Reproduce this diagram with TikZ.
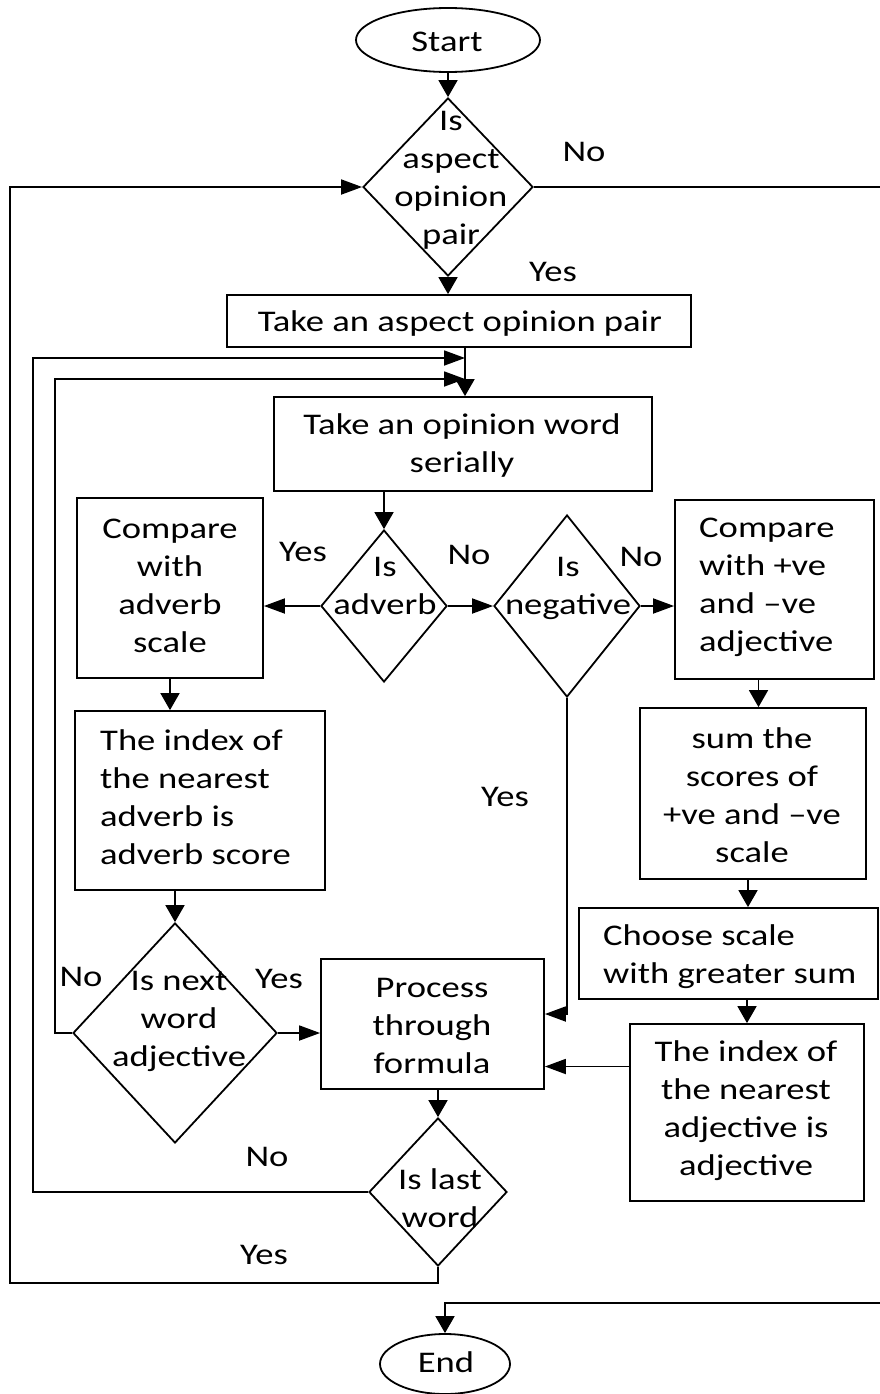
\documentclass[tikz,border=0pt]{standalone}
\usepackage{fontspec}
\setmainfont{Carlito}[FakeStretch=1.22]
\usetikzlibrary{shapes.geometric,arrows.meta}
\begin{document}
\begin{tikzpicture}[x=1pt,y=-1pt,
  every node/.style={font=\fontsize{30}{38}\selectfont},
  ln/.style={line width=1.8pt},
  box/.style={draw,line width=1.8pt,rectangle,inner sep=0pt},
  dia/.style={draw,line width=1.8pt,diamond,inner sep=0pt},
  oval/.style={draw,line width=1.8pt,ellipse,inner sep=0pt},
  txt/.style={align=center,inner sep=0pt},
  ltxt/.style={align=left,inner sep=0pt,anchor=west},
  lbl/.style={inner sep=0pt},
  av/.style={-{Triangle[length=17pt,width=19pt]}},
  ah/.style={-{Triangle[length=21pt,width=15pt]}},
]
\useasboundingbox (0,0) rectangle (880,1394);

% shapes
\node[oval,minimum width=184pt,minimum height=64pt] (start) at (448,40) {};
\node[txt] (startt) at (447,42) {Start};
\node[dia,minimum width=170pt,minimum height=178pt] (d1) at (448,187) {};
\node[txt] (d1t) at (451,180) {Is\\aspect\\opinion\\pair};
\node[box,minimum width=464pt,minimum height=52pt] (b1) at (459,321) {};
\node[txt] (b1t) at (460,323) {Take an aspect opinion pair};
\node[box,minimum width=378pt,minimum height=94pt] (b2) at (463,444) {};
\node[txt] (b2t) at (462,445) {Take an opinion word\\serially};
\node[dia,minimum width=126pt,minimum height=152pt] (d2) at (384,606) {};
\node[txt] (d2t) at (385,586) {Is\\adverb};
\node[dia,minimum width=146pt,minimum height=182pt] (d3) at (567,606) {};
\node[txt] (d3t) at (568,588) {Is\\negative};
\node[box,minimum width=186pt,minimum height=180pt] (b3) at (170,588) {};
\node[txt] (b3t) at (170,586) {Compare\\with\\adverb\\scale};
\node[box,minimum width=199pt,minimum height=179pt] (b4) at (774.5,589.5) {};
\node[ltxt] (b4t) at (699,587) {Compare\\with +ve\\and –ve\\adjective};
\node[box,minimum width=250pt,minimum height=179pt] (b5) at (200,800.5) {};
\node[ltxt] (b5t) at (100,797) {The index of\\the nearest\\adverb is\\adverb score};
\node[box,minimum width=226pt,minimum height=171pt] (b7) at (753,793.5) {};
\node[txt] (b7t) at (752,795) {sum the\\scores of\\+ve and –ve\\scale};
\node[box,minimum width=299pt,minimum height=91pt] (b8) at (728.5,953.5) {};
\node[ltxt] (b8t) at (603,957) {Choose scale\\with greater sum};
\node[dia,minimum width=204pt,minimum height=220pt] (d4) at (175,1033) {};
\node[txt] (d4t) at (179,1021) {Is next\\word\\adjective};
\node[box,minimum width=223pt,minimum height=130pt] (b6) at (432.5,1024) {};
\node[txt] (b6t) at (432,1026) {Process\\through\\formula};
\node[box,minimum width=234pt,minimum height=177pt] (b9) at (747,1112.5) {};
\node[txt] (b9t) at (746,1111) {The index of\\the nearest\\adjective is\\adjective};
\node[dia,minimum width=138pt,minimum height=148pt] (d5) at (438,1192) {};
\node[txt] (d5t) at (440,1198) {Is last\\word};
\node[oval,minimum width=130pt,minimum height=60pt] (endn) at (445,1364) {};
\node[txt] (endt) at (446,1362) {End};

% labels
\node[lbl] (l1) at (584,152) {No};
\node[lbl] (l2) at (553,272) {Yes};
\node[lbl] (l3) at (303,552) {Yes};
\node[lbl] (l4) at (469,555) {No};
\node[lbl] (l5) at (641,557) {No};
\node[lbl] (l6) at (505,797) {Yes};
\node[lbl] (l7) at (81,977) {No};
\node[lbl] (l8) at (279,979) {Yes};
\node[lbl] (l9) at (267,1157) {No};
\node[lbl] (l10) at (264,1255) {Yes};

% coordinates
\coordinate (j1) at (465,358);
\coordinate (j2) at (465,379);
\coordinate (L1) at (33,358);
\coordinate (L2) at (55,379);
\coordinate (L0a) at (10,1283);
\coordinate (L0b) at (10,187);
\coordinate (rA) at (880,187);
\coordinate (rB) at (880,1303);

% connectors
\draw[ln,av] (start.south) -- (d1.north);
\draw[ln,av] (d1.south) -- (d1.south |- b1.north);
\draw[ln] (d1.east) -- (rA);
\draw[ln,av] (j1 |- b1.south) -- (j1 |- b2.north);
\draw[ln,ah] (d5.west) -| (L1) -- (j1);
\draw[ln,ah] (d4.west) -| (L2) -- (j2);
\draw[ln,ah] (d5.south) |- (L0a) -- (L0b) -- (d1.west);
\draw[ln,av] (b2.south -| d2.north) -- (d2.north);
\draw[ln,ah] (d2.west) -- (d2.west -| b3.east);
\draw[ln,ah] (d2.east) -- (d3.west);
\draw[ln,ah] (d3.east) -- (d3.east -| b4.west);
\draw[ln,av] (b3.south) -- (b3.south |- b5.north);
\draw[ln,av] (b5.south -| d4.north) -- (d4.north);
\draw[ln,ah] (d4.east) -- (d4.east -| b6.west);
\draw[ln,ah] (d3.south) |- ([yshift=10pt]b6.east);
\draw[ln,av] ([xshift=-16pt]b4.south) -- ([xshift=-16pt]b4.south |- b7.north);
\draw[ln,av] ([xshift=-5pt]b7.south) -- ([xshift=-5pt]b7.south |- b8.north);
\draw[ln,av] (b9.north |- b8.south) -- (b9.north);
\draw[ln,ah] ([yshift=46pt]b9.west) -- ([yshift=46pt]b9.west -| b6.east);
\draw[ln,av] (b6.south -| d5.north) -- (d5.north);
\draw[ln,av] (rB) -| (endn.north);
\end{tikzpicture}
\end{document}
